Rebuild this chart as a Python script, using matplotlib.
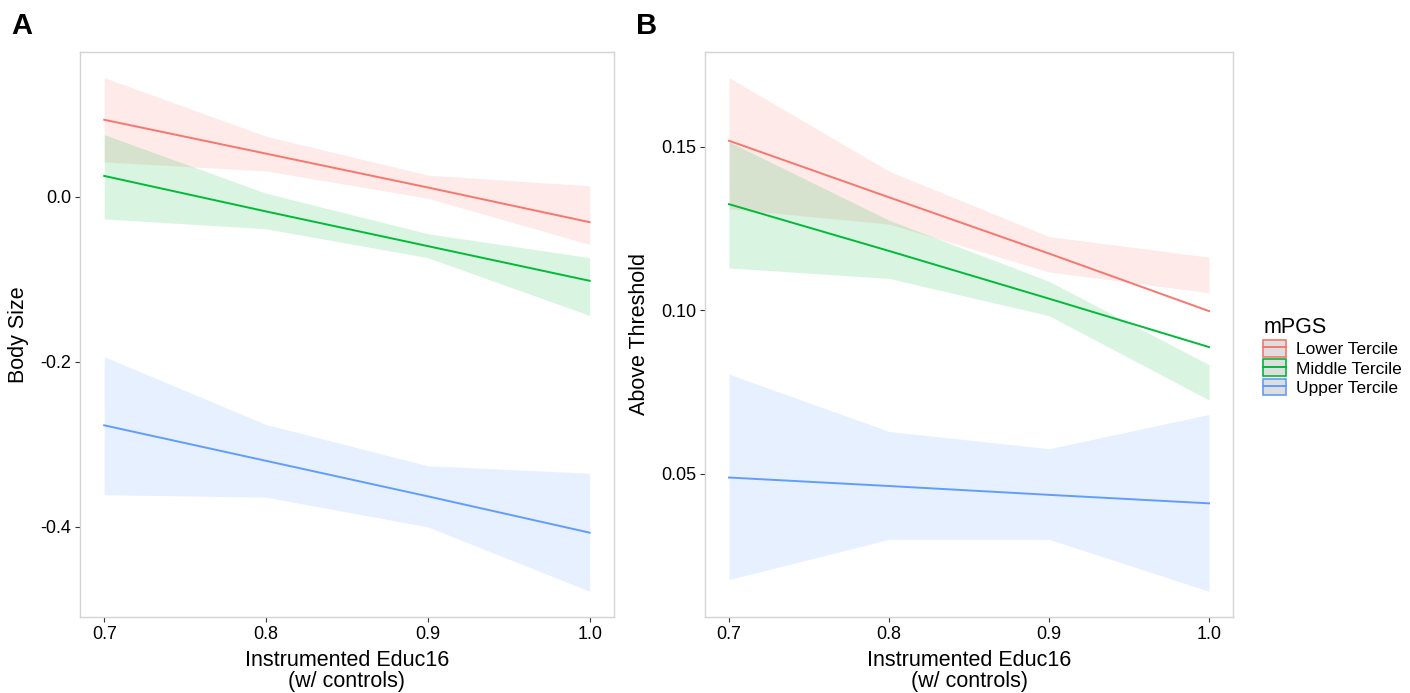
import matplotlib
matplotlib.use("Agg")
import matplotlib.pyplot as plt
from matplotlib.patches import Patch
from matplotlib.lines import Line2D

plt.rcParams['font.family'] = ['Liberation Sans', 'DejaVu Sans']

x = [0.7, 0.8, 0.9, 1.0]
groups = ["Lower Tercile", "Middle Tercile", "Upper Tercile"]
colors = ["#F8766D", "#00BA38", "#619CFF"]

# panel A: body size
a_fit = [[0.093, 0.052, 0.011, -0.031],
         [0.025, -0.018, -0.060, -0.102],
         [-0.277, -0.320, -0.363, -0.407]]
a_lo = [[0.042, 0.031, -0.002, -0.058],
        [-0.027, -0.039, -0.074, -0.144],
        [-0.361, -0.364, -0.400, -0.478]]
a_hi = [[0.144, 0.073, 0.026, 0.013],
        [0.075, 0.004, -0.045, -0.074],
        [-0.194, -0.276, -0.326, -0.335]]

# panel B: above threshold
b_fit = [[0.1519, 0.1346, 0.1174, 0.0998],
         [0.1325, 0.1182, 0.1036, 0.0888],
         [0.0489, 0.0463, 0.0436, 0.0410]]
b_lo = [[0.1311, 0.1264, 0.1118, 0.1054],
        [0.1130, 0.1098, 0.0984, 0.0726],
        [0.0177, 0.0300, 0.0300, 0.0141]]
b_hi = [[0.1712, 0.1426, 0.1226, 0.1163],
        [0.1516, 0.1276, 0.1089, 0.0834],
        [0.0805, 0.0630, 0.0577, 0.0682]]

fig = plt.figure(figsize=(14.1, 6.93), dpi=100)
axA = fig.add_axes([0.0567, 0.1097, 0.3787, 0.8153])
axB = fig.add_axes([0.5, 0.1097, 0.3745, 0.8153])


def draw(ax, fit, lo, hi, ylabel, yticks, ylabels):
    for i in range(3):
        ax.fill_between(x, lo[i], hi[i], color=colors[i], alpha=0.15, linewidth=0)
        ax.plot(x, fit[i], color=colors[i], lw=1.4)
    ax.set_xlim(0.685, 1.015)
    allv = [v for r in lo + hi for v in r]
    pad = (max(allv) - min(allv)) * 0.05
    ax.set_ylim(min(allv) - pad, max(allv) + pad)
    ax.set_xticks(x)
    ax.set_xticklabels(["0.7", "0.8", "0.9", "1.0"])
    ax.set_yticks(yticks)
    ax.set_yticklabels(ylabels)
    ax.tick_params(labelsize=13, colors="#333333", length=3.5, width=0.8,
                   labelcolor="black", pad=3)
    for s in ax.spines.values():
        s.set_color("#d4d4d4")
        s.set_linewidth(1.0)
    ax.set_ylabel(ylabel, fontsize=15.5, labelpad=8)
    ax.set_xlabel("Instrumented Educ16\n(w/ controls)", fontsize=15.5,
                  labelpad=5, linespacing=1.0)


draw(axA, a_fit, a_lo, a_hi, "Body Size", [0.0, -0.2, -0.4], ["0.0", "-0.2", "-0.4"])
draw(axB, b_fit, b_lo, b_hi, "Above Threshold", [0.05, 0.10, 0.15], ["0.05", "0.10", "0.15"])

fig.text(0.008, 0.962, "A", fontsize=21, fontweight="bold", va="center")
fig.text(0.451, 0.962, "B", fontsize=21, fontweight="bold", va="center")

handles = [(Patch(facecolor="#dedede", edgecolor=c, linewidth=1.2),
            Line2D([], [], color=c, lw=1.4)) for c in colors]
leg = fig.legend(handles, groups, title="mPGS", loc="upper left",
                 bbox_to_anchor=(0.885, 0.565), frameon=False, fontsize=12.5,
                 title_fontsize=15.5, handlelength=1.3, handleheight=1.1,
                 handletextpad=0.55, labelspacing=0.12, alignment="left")

fig.savefig("out.png", dpi=100)
